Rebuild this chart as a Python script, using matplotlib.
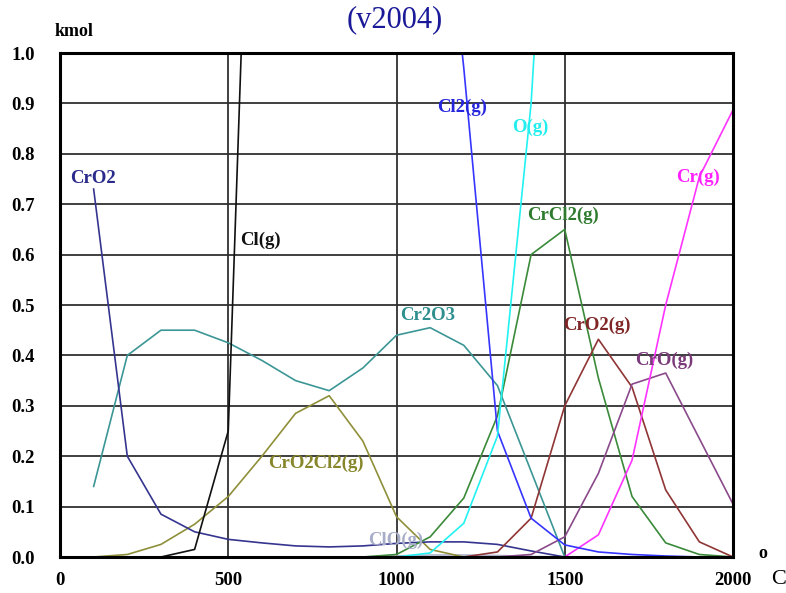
import numpy as np
import matplotlib.pyplot as plt

# temperature steps (C)
temps = [100, 200, 300, 400, 500, 600, 700, 800, 900, 1000,
         1100, 1200, 1300, 1400, 1500, 1600, 1700, 1800, 1900, 2000]

cro2 = [0.73, 0.20, 0.085, 0.05, 0.035, 0.028, 0.022, 0.02, 0.022, 0.027,
        0.03, 0.03, 0.025, 0.012, 0.0, 0.0, 0.0, 0.0, 0.0, 0.0]
cl_g = [0.0, 0.0, 0.0, 0.015, 0.25, 2.2, 4.0, 4.0, 4.0, 4.0,
        4.0, 4.0, 4.0, 4.0, 4.0, 4.0, 4.0, 4.0, 4.0, 4.0]
cr2o3 = [0.14, 0.40, 0.45, 0.45, 0.425, 0.39, 0.35, 0.33, 0.375, 0.44,
         0.455, 0.42, 0.34, 0.17, 0.0, 0.0, 0.0, 0.0, 0.0, 0.0]
cro2cl2 = [0.0, 0.005, 0.025, 0.065, 0.12, 0.20, 0.285, 0.32, 0.23, 0.08,
           0.015, 0.0, 0.0, 0.0, 0.0, 0.0, 0.0, 0.0, 0.0, 0.0]
crcl2 = [0.0, 0.0, 0.0, 0.0, 0.0, 0.0, 0.0, 0.0, 0.0, 0.005,
         0.04, 0.117, 0.28, 0.60, 0.65, 0.355, 0.12, 0.028, 0.005, 0.0]
o_g = [0.0, 0.0, 0.0, 0.0, 0.0, 0.0, 0.0, 0.0, 0.0, 0.0,
       0.008, 0.067, 0.24, 0.90, 2.0, 4.0, 4.0, 4.0, 4.0, 4.0]
cl2_g = [4.0, 4.0, 4.0, 4.0, 4.0, 4.0, 4.0, 4.0, 4.0, 4.0,
         1.6, 0.97, 0.25, 0.077, 0.024, 0.01, 0.005, 0.002, 0.0, 0.0]
cro2_g = [0.0, 0.0, 0.0, 0.0, 0.0, 0.0, 0.0, 0.0, 0.0, 0.0,
          0.0, 0.0, 0.01, 0.077, 0.30, 0.432, 0.337, 0.133, 0.03, 0.0]
cro_g = [0.0, 0.0, 0.0, 0.0, 0.0, 0.0, 0.0, 0.0, 0.0, 0.0,
         0.0, 0.0, 0.0, 0.005, 0.04, 0.166, 0.343, 0.365, 0.235, 0.105]
cr_g = [0.0, 0.0, 0.0, 0.0, 0.0, 0.0, 0.0, 0.0, 0.0, 0.0,
        0.0, 0.0, 0.0, 0.0, 0.0, 0.044, 0.192, 0.50, 0.754, 0.887]
clo_g = [0.0, 0.0, 0.0, 0.0, 0.0, 0.0, 0.0, 0.0, 0.0, 0.002,
         0.004, 0.004, 0.003, 0.001, 0.0, 0.0, 0.0, 0.0, 0.0, 0.0]

xticks = [0, 500, 1000, 1500, 2000]
yticks = [0.0, 0.1, 0.2, 0.3, 0.4, 0.5, 0.6, 0.7, 0.8, 0.9, 1.0]

serif = 'Liberation Serif'

fig = plt.figure(figsize=(7.86, 5.93), dpi=100)
ax = fig.add_axes([60/786, 36/593, 673/786, 504/593])

for v in [500, 1000, 1500]:
    ax.axvline(v, color='#303030', lw=1.3, zorder=1)
for v in yticks[1:-1]:
    ax.axhline(v, color='#303030', lw=1.3, zorder=1)

# name, values, line colour, label colour, label pos
series = [
    ('ClO(g)', clo_g, '#b0b4cc', '#a8aec8', (368, 540)),
    ('CrO2Cl2(g)', cro2cl2, '#8f8f3a', '#86862a', (268, 463)),
    ('Cr2O3', cr2o3, '#3c9696', '#2f8f8f', (400, 315)),
    ('CrO2', cro2, '#35358f', '#2a2a8c', (70, 178)),
    ('Cl(g)', cl_g, '#111111', '#111111', (240, 240)),
    ('CrCl2(g)', crcl2, '#3a8a3a', '#2e7a2e', (527, 215)),
    ('CrO2(g)', cro2_g, '#8f3535', '#7f2525', (563, 325)),
    ('CrO(g)', cro_g, '#8a4a8a', '#7a3a7a', (635, 360)),
    ('Cr(g)', cr_g, '#ff33ff', '#ff22ff', (676, 177)),
    ('Cl2(g)', cl2_g, '#3535ff', '#2525dd', (437, 107)),
    ('O(g)', o_g, '#22f2f2', '#22eeee', (512, 127)),
]

for name, vals, lc, tc, (px, py) in series:
    ax.plot(temps, vals, color=lc, lw=1.2, zorder=3)
    fig.text(px/786, 1 - py/593, name, color=tc, fontsize=13.5,
             fontweight='bold', family=serif, ha='left', va='center')

ax.set_xlim(0, 2000)
ax.set_ylim(0, 1.0)
ax.set_xticks(xticks)
ax.set_yticks(yticks)
ax.set_xticklabels([str(t) for t in xticks])
ax.set_yticklabels(['%.1f' % t for t in yticks])
ax.tick_params(length=0, labelsize=13.5, pad=11)
ax.tick_params(axis='y', pad=18)
for lab in ax.get_xticklabels() + ax.get_yticklabels():
    lab.set_fontweight('bold')
    lab.set_family(serif)
for s in ax.spines.values():
    s.set_linewidth(2.2)
    s.set_zorder(5)

fig.text(55/786, 1 - 31/593, 'kmol', fontsize=13, fontweight='bold',
         family=serif, ha='left', va='center')
fig.text(395/786, 1 - 20/593, '(v2004)', fontsize=22, color='#1a1a99',
         family=serif, ha='center', va='center')
fig.text(763/786, 1 - 553/593, 'o', fontsize=13, fontweight='bold',
         family=serif, ha='center', va='center')
fig.text(771/786, 1 - 580/593, 'C', fontsize=16, family=serif,
         ha='left', va='center')

fig.savefig('out.png', dpi=100)
